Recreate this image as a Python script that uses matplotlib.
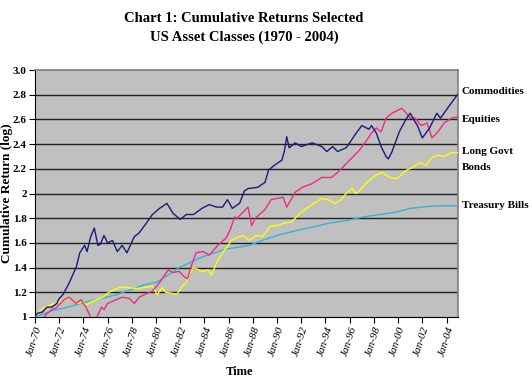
import numpy as np
import matplotlib.pyplot as plt

# --- data (decimal year, cumulative return) ---
comm_t = [1970.0, 1970.2, 1970.6, 1971.0, 1971.4, 1971.8, 1972.0, 1972.3, 1972.8, 1973.2,
          1973.4, 1973.7, 1974.1, 1974.3, 1974.6, 1974.9, 1975.2, 1975.4, 1975.7, 1976.0,
          1976.4, 1976.8, 1977.2, 1977.6, 1978.2, 1978.6, 1979.2, 1979.7, 1980.3, 1980.9,
          1981.4, 1982.0, 1982.5, 1983.1, 1983.8, 1984.4, 1985.0, 1985.5, 1985.9, 1986.3,
          1986.9, 1987.3, 1987.6, 1988.4, 1989.0, 1989.3, 1989.8, 1990.4, 1990.6, 1990.8,
          1991.0, 1991.5, 1992.0, 1992.9, 1993.7, 1994.1, 1994.6, 1995.0, 1995.7, 1996.0,
          1996.4, 1997.0, 1997.6, 1997.8, 1998.2, 1998.6, 1999.0, 1999.2, 1999.5, 2000.1,
          2000.7, 2001.0, 2001.4, 2001.6, 2002.0, 2002.6, 2003.2, 2003.5, 2004.3, 2004.9]
comm_v = [1.00, 1.03, 1.04, 1.08, 1.08, 1.11, 1.15, 1.18, 1.27, 1.36,
          1.40, 1.52, 1.58, 1.53, 1.65, 1.72, 1.58, 1.59, 1.66, 1.60,
          1.62, 1.53, 1.58, 1.52, 1.65, 1.68, 1.76, 1.83, 1.88, 1.92,
          1.84, 1.79, 1.83, 1.83, 1.88, 1.91, 1.89, 1.89, 1.95, 1.88,
          1.92, 2.02, 2.04, 2.05, 2.09, 2.19, 2.23, 2.27, 2.34, 2.46,
          2.37, 2.41, 2.38, 2.41, 2.38, 2.34, 2.38, 2.34, 2.37, 2.41,
          2.47, 2.55, 2.52, 2.55, 2.49, 2.38, 2.30, 2.28, 2.34, 2.50,
          2.61, 2.65, 2.58, 2.55, 2.45, 2.53, 2.65, 2.61, 2.72, 2.80]

eq_t = [1970.0, 1970.3, 1970.6, 1970.9, 1971.4, 1971.7, 1972.0, 1972.4, 1972.8, 1973.4,
        1973.8, 1974.2, 1974.5, 1974.8, 1975.0, 1975.2, 1975.5, 1975.7, 1976.0, 1976.7,
        1977.2, 1977.8, 1978.2, 1978.6, 1979.0, 1979.7, 1980.3, 1981.0, 1981.4, 1981.9,
        1982.4, 1982.6, 1982.9, 1983.3, 1983.9, 1984.4, 1985.1, 1985.8, 1986.1, 1986.5,
        1986.7, 1987.2, 1987.6, 1987.9, 1988.2, 1989.0, 1989.5, 1990.0, 1990.5, 1990.8,
        1991.5, 1992.1, 1992.9, 1993.7, 1994.5, 1995.0, 1995.6, 1996.0, 1996.4, 1996.8,
        1997.4, 1997.8, 1998.2, 1998.6, 1999.0, 1999.5, 2000.3, 2000.6, 2001.0, 2001.4,
        2001.9, 2002.4, 2002.8, 2003.3, 2003.8, 2004.4, 2004.9]
eq_v = [1.00, 0.97, 0.97, 1.02, 1.06, 1.07, 1.10, 1.14, 1.16, 1.11,
        1.14, 1.08, 1.02, 0.95, 0.97, 1.02, 1.08, 1.06, 1.11, 1.14,
        1.16, 1.15, 1.11, 1.16, 1.18, 1.21, 1.28, 1.38, 1.36, 1.37,
        1.32, 1.31, 1.41, 1.52, 1.53, 1.50, 1.58, 1.64, 1.70, 1.81,
        1.80, 1.85, 1.89, 1.74, 1.80, 1.87, 1.95, 1.96, 1.97, 1.89,
        2.01, 2.05, 2.08, 2.13, 2.13, 2.17, 2.23, 2.27, 2.31, 2.35,
        2.43, 2.49, 2.53, 2.50, 2.61, 2.65, 2.69, 2.66, 2.61, 2.61,
        2.55, 2.57, 2.45, 2.50, 2.57, 2.61, 2.62]

bond_t = [1970.0, 1970.6, 1971.3, 1972.0, 1972.8, 1973.5, 1973.9, 1974.3, 1974.6, 1975.1,
          1975.6, 1976.1, 1977.0, 1977.5, 1978.4, 1979.2, 1979.7, 1980.1, 1980.5, 1980.8,
          1981.4, 1981.7, 1982.1, 1982.5, 1982.8, 1983.1, 1983.8, 1984.3, 1984.6, 1985.0,
          1985.5, 1985.9, 1986.2, 1986.9, 1987.2, 1987.7, 1988.3, 1988.8, 1989.5, 1990.0,
          1990.6, 1991.2, 1991.9, 1992.3, 1992.9, 1993.7, 1994.2, 1994.8, 1995.3, 1995.7,
          1996.2, 1996.5, 1996.8, 1997.4, 1998.2, 1998.7, 1999.3, 1999.9, 2000.7, 2001.2,
          2001.8, 2002.3, 2002.8, 2003.3, 2003.8, 2004.4, 2004.9]
bond_v = [1.00, 1.07, 1.10, 1.12, 1.15, 1.11, 1.12, 1.10, 1.12, 1.14,
          1.16, 1.20, 1.24, 1.24, 1.23, 1.24, 1.25, 1.18, 1.24, 1.20,
          1.19, 1.18, 1.24, 1.28, 1.36, 1.40, 1.37, 1.38, 1.34, 1.44,
          1.52, 1.57, 1.62, 1.65, 1.66, 1.62, 1.66, 1.65, 1.74, 1.74,
          1.76, 1.77, 1.84, 1.87, 1.91, 1.96, 1.95, 1.92, 1.95, 2.00,
          2.04, 2.00, 2.02, 2.09, 2.15, 2.17, 2.13, 2.12, 2.19, 2.21,
          2.25, 2.23, 2.29, 2.31, 2.30, 2.33, 2.33]

tb_t = [1970.0, 1971.4, 1972.7, 1974.2, 1975.5, 1976.7, 1978.2, 1979.0, 1980.0, 1981.0,
        1981.9, 1983.0, 1983.9, 1985.8, 1987.7, 1988.8, 1990.0, 1991.6, 1993.0, 1994.3,
        1995.7, 1997.1, 1998.5, 1999.9, 2001.0, 2002.0, 2003.0, 2004.9]
tb_v = [1.00, 1.05, 1.08, 1.12, 1.15, 1.18, 1.23, 1.26, 1.28, 1.34,
        1.40, 1.45, 1.49, 1.55, 1.58, 1.62, 1.66, 1.70, 1.73, 1.76,
        1.78, 1.81, 1.83, 1.85, 1.88, 1.89, 1.90, 1.90]

yticks = [1.0, 1.2, 1.4, 1.6, 1.8, 2.0, 2.2, 2.4, 2.6, 2.8, 3.0]
ylabels = ["1", "1.2", "1.4", "1.6", "1.8", "2", "2.2", "2.4", "2.6", "2.8", "3.0"]
xyears = list(range(1970, 2005, 2))
xlabels = ["Jan-%02d" % (y % 100) for y in xyears]

plt.rcParams["font.family"] = ["Liberation Serif", "DejaVu Serif"]

fig = plt.figure(figsize=(5.32, 3.88), dpi=100)
ax = fig.add_axes([35/532, 1 - 317/388, (458 - 35)/532, (317 - 70)/388])
ax.set_facecolor("#c0c0c0")

for y in yticks[1:-1]:
    ax.axhline(y, color="#202020", lw=1.0, zorder=1)

ax.plot(tb_t, tb_v, color="#33b4d6", lw=1.0, zorder=3)
ax.plot(bond_t, bond_v, color="#ffff00", lw=1.0, zorder=3)
ax.plot(eq_t, eq_v, color="#ee2a85", lw=1.0, zorder=3)
ax.plot(comm_t, comm_v, color="#1a1a80", lw=1.0, zorder=4)

ax.set_xlim(1970.0, 2004.95)
ax.set_ylim(1.0, 3.0)
ax.set_yticks(yticks)
ax.set_yticklabels(ylabels, fontsize=8, fontweight="bold")
ax.set_xticks(xyears)
ax.set_xticklabels(xlabels, fontsize=8, style="italic", rotation=72,
                   ha="right", rotation_mode="anchor")
ax.tick_params(axis="both", direction="out", length=4, width=0.8, color="black", pad=2)

for s in ["top", "right"]:
    ax.spines[s].set_color("#808080")
    ax.spines[s].set_linewidth(1.2)
for s in ["left", "bottom"]:
    ax.spines[s].set_color("black")
    ax.spines[s].set_linewidth(0.8)

ax.set_ylabel("Cumulative Return (log)", fontsize=9.5, fontweight="bold")
ax.yaxis.set_label_coords((13 - 35) / 423, 0.5)
fig.text(239/532, 1 - 372/388, "Time", ha="center", va="center",
         fontsize=9, fontweight="bold")

fig.text(244/532, 1 - 18/388, "Chart 1: Cumulative Returns Selected",
         ha="center", va="center", fontsize=10.5, fontweight="bold")
fig.text(244/532, 1 - 37/388, "US Asset Classes (1970 - 2004)",
         ha="center", va="center", fontsize=10.5, fontweight="bold")

# series names at the right edge
right = [("Commodities", 92), ("Equities", 120), ("Long Govt", 152),
         ("Bonds", 168), ("Treasury Bills", 205)]
for name, py in right:
    fig.text(462/532, 1 - py/388, name, ha="left", va="center",
             fontsize=8, fontweight="bold")

fig.savefig("out.png", dpi=100, facecolor="white")
